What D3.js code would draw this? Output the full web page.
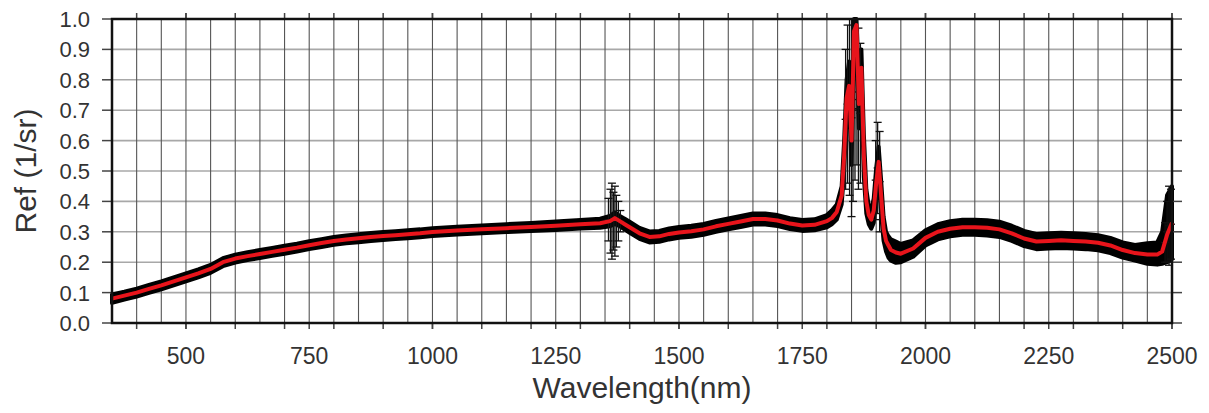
<!DOCTYPE html>
<meta charset="utf-8">
<style>
body { margin: 0; background: #fff; }
text { font-family: "Liberation Sans", Arial, sans-serif; fill: #333; }
</style>
<svg width="1209" height="413"></svg>
<script src="https://cdn.jsdelivr.net/npm/d3@7/dist/d3.min.js"></script>
<script>

// spectrum samples
var wavelength = [350,375,400,425,450,475,500,525,550,575,600,625,650,675,700,725,750,775,800,825,850,875,900,925,950,975,1000,1050,1100,1150,1200,1250,1300,1340,1360,1365,1370,1375,1380,1390,1400,1420,1440,1460,1480,1500,1525,1550,1575,1600,1625,1650,1675,1700,1725,1750,1775,1800,1810,1820,1830,1835,1840,1845,1850,1855,1860,1865,1870,1875,1880,1885,1890,1895,1900,1905,1910,1915,1920,1925,1930,1940,1950,1975,2000,2025,2050,2075,2100,2125,2150,2175,2200,2225,2250,2275,2300,2325,2350,2375,2400,2425,2450,2470,2480,2490,2500];
var refMean = [.080,.090,.100,.112,.124,.137,.150,.163,.178,.200,.212,.220,.227,.234,.241,.248,.256,.263,.270,.275,.279,.283,.286,.289,.292,.295,.299,.304,.308,.312,.316,.320,.325,.328,.335,.340,.345,.340,.335,.325,.315,.295,.283,.285,.293,.298,.302,.308,.318,.326,.334,.342,.342,.337,.327,.321,.323,.335,.345,.365,.42,.55,.74,.78,.60,.96,.98,.72,.84,.55,.40,.355,.34,.37,.46,.53,.42,.31,.27,.255,.24,.232,.228,.245,.280,.300,.310,.315,.315,.313,.308,.295,.278,.268,.270,.272,.270,.268,.264,.255,.240,.230,.225,.225,.235,.290,.330];
var refLow = [.066,.077,.087,.099,.111,.124,.137,.150,.165,.187,.199,.207,.214,.221,.228,.235,.243,.250,.257,.262,.266,.270,.273,.276,.279,.282,.286,.291,.295,.299,.303,.306,.311,.313,.318,.322,.326,.322,.318,.307,.297,.277,.265,.267,.275,.280,.284,.290,.300,.308,.316,.324,.324,.319,.309,.303,.305,.315,.325,.34,.39,.50,.68,.72,.52,.90,.92,.64,.78,.48,.36,.325,.31,.33,.41,.47,.36,.27,.235,.215,.205,.198,.200,.218,.255,.275,.285,.290,.290,.288,.283,.270,.253,.243,.245,.247,.245,.243,.239,.230,.215,.205,.195,.192,.195,.20,.21];
var refHigh = [.094,.103,.113,.125,.137,.150,.163,.176,.191,.213,.225,.233,.240,.247,.254,.261,.269,.276,.283,.288,.292,.296,.299,.302,.305,.308,.312,.317,.321,.325,.329,.334,.339,.343,.352,.358,.364,.358,.352,.343,.333,.313,.301,.303,.311,.316,.320,.326,.336,.344,.352,.360,.360,.355,.345,.339,.341,.355,.37,.39,.45,.60,.80,.86,.70,1.0,1.0,.80,.90,.62,.44,.385,.37,.41,.51,.58,.47,.35,.30,.285,.275,.268,.260,.272,.305,.325,.335,.340,.340,.338,.333,.320,.303,.293,.295,.297,.295,.293,.289,.280,.265,.257,.262,.265,.30,.42,.45];

// scattered single readings that stick out of the band
var noiseWave = [1357,1361,1364,1367,1370,1373,1377,1381,1838,1842,1846,1850,1853,1857,1861,1864,1868,1899,1903,1907,2486,2490,2494,2498];
var noiseLow = [.27,.23,.21,.24,.22,.25,.27,.30,.44,.46,.42,.35,.40,.47,.52,.44,.46,.34,.36,.30,.20,.20,.19,.21];
var noiseHigh = [.41,.44,.46,.43,.45,.42,.40,.37,.90,.98,1.0,1.0,1.0,1.0,1.0,.97,.92,.60,.66,.63,.33,.40,.45,.44];

var xTicks = [500, 750, 1000, 1250, 1500, 1750, 2000, 2250, 2500];
var yTicks = [0, 0.1, 0.2, 0.3, 0.4, 0.5, 0.6, 0.7, 0.8, 0.9, 1.0];

var svg = d3.select("svg"),
  margin = {top: 19, right: 37, bottom: 90, left: 112},
  width = svg.attr("width") - margin.left - margin.right,
  height = svg.attr("height") - margin.top - margin.bottom;

var x = d3.scaleLinear().domain([350, 2500]).range([0, width]),
  y = d3.scaleLinear().domain([0, 1]).range([height, 0]);

var g = svg.append("g")
  .attr("transform", "translate(" + margin.left + "," + margin.top + ")");

// grid
var gridX = d3.range(400, 2500, 50),
  minorX = d3.range(400, 2501, 100).concat(xTicks);

g.append("g").selectAll("line")
  .data(yTicks.slice(1, -1))
  .enter().append("line")
    .attr("x1", 0).attr("x2", width)
    .attr("y1", function(d) { return y(d); })
    .attr("y2", function(d) { return y(d); })
    .attr("stroke", "#a8a8a8").attr("stroke-width", 1.6);

g.append("g").selectAll("line")
  .data(gridX)
  .enter().append("line")
    .attr("x1", function(d) { return x(d); })
    .attr("x2", function(d) { return x(d); })
    .attr("y1", 0).attr("y2", height)
    .attr("stroke", "#555").attr("stroke-width", 1.1);

// data
var pts = wavelength.map(function(w, i) {
  return {w: w, m: refMean[i], lo: refLow[i], hi: refHigh[i]};
});
var noise = noiseWave.map(function(w, i) {
  return {w: w, lo: noiseLow[i], hi: noiseHigh[i]};
});

var band = d3.area()
  .x(function(d) { return x(d.w); })
  .y0(function(d) { return y(d.lo); })
  .y1(function(d) { return y(d.hi); });

g.append("path")
  .datum(pts)
  .attr("d", band)
  .attr("fill", "#000")
  .attr("stroke", "#000")
  .attr("stroke-width", 4)
  .attr("stroke-linejoin", "round");

// noisy readings: vertical spreads with "+" marks
var nz = g.append("g").attr("stroke", "#111").attr("stroke-width", 1.3);
noise.forEach(function(d) {
  var cx = x(d.w);
  nz.append("line").attr("x1", cx).attr("x2", cx).attr("y1", y(d.lo)).attr("y2", y(d.hi));
  [d.lo, d.hi, (d.lo + d.hi) / 2].forEach(function(v) {
    var cy = y(v);
    nz.append("line").attr("x1", cx - 4).attr("x2", cx + 4).attr("y1", cy).attr("y2", cy);
  });
});

var line = d3.line()
  .x(function(d) { return x(d.w); })
  .y(function(d) { return y(d.m); });

g.append("path")
  .datum(pts)
  .attr("d", line)
  .attr("fill", "none")
  .attr("stroke", "#e8141b")
  .attr("stroke-width", 4)
  .attr("stroke-linejoin", "round");

// ticks outside frame
var tk = g.append("g").attr("stroke", "#444").attr("stroke-width", 1.5);
yTicks.forEach(function(v) {
  tk.append("line").attr("x1", -10).attr("x2", 0).attr("y1", y(v)).attr("y2", y(v));
  tk.append("line").attr("x1", width).attr("x2", width + 10).attr("y1", y(v)).attr("y2", y(v));
});
minorX.forEach(function(w) {
  tk.append("line").attr("x1", x(w)).attr("x2", x(w)).attr("y1", height).attr("y2", height + 6);
  tk.append("line").attr("x1", x(w)).attr("x2", x(w)).attr("y1", -6).attr("y2", 0);
});

// frame
g.append("rect")
  .attr("width", width).attr("height", height)
  .attr("fill", "none")
  .attr("stroke", "#111")
  .attr("stroke-width", 2.5);

// tick labels
g.append("g").selectAll("text")
  .data(yTicks)
  .enter().append("text")
    .attr("x", -22)
    .attr("y", function(d) { return y(d) + 8; })
    .attr("text-anchor", "end")
    .style("font-size", "22px")
    .text(function(d) { return d3.format(".1f")(d); });

g.append("g").selectAll("text")
  .data(xTicks)
  .enter().append("text")
    .attr("x", function(d) { return x(d); })
    .attr("y", height + 41)
    .attr("text-anchor", "middle")
    .style("font-size", "23px")
    .text(function(d) { return d; });

// axis titles
g.append("text")
  .attr("x", width / 2)
  .attr("y", height + 75)
  .attr("text-anchor", "middle")
  .style("font-size", "30px")
  .text("Wavelength(nm)");

g.append("text")
  .attr("transform", "translate(" + (36 - margin.left) + "," + (171 - margin.top) + ") rotate(-90)")
  .attr("text-anchor", "middle")
  .style("font-size", "30px")
  .text("Ref (1/sr)");

</script>
